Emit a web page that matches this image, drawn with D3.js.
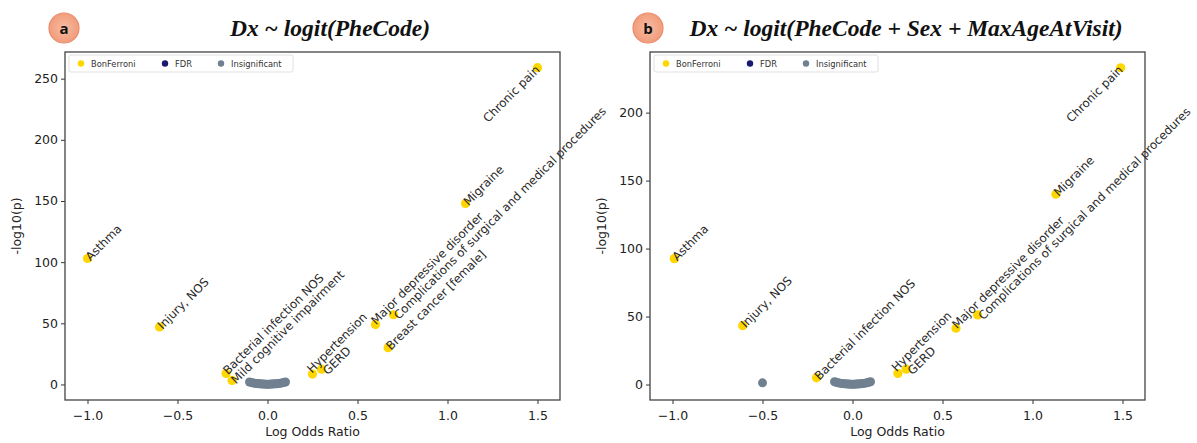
<!DOCTYPE html>
<html>
<head>
<meta charset="utf-8">
<script src="https://cdn.jsdelivr.net/npm/d3@7"></script>
<style>
  html, body { margin: 0; padding: 0; background: #fff; }
  svg { display: block; }
</style>
</head>
<body>
<svg id="chart" width="1197" height="443"></svg>
<script>
// ---------------- DATA ----------------
const panelLetters = ["a", "b"];
const panelTitles = ["Dx ~ logit(PheCode)", "Dx ~ logit(PheCode + Sex + MaxAgeAtVisit)"];
const legendLabels = ["BonFerroni", "FDR", "Insignificant"];
const xTicks = [-1.0, -0.5, 0.0, 0.5, 1.0, 1.5];
const yTicksA = [0, 50, 100, 150, 200, 250];
const yTicksB = [0, 50, 100, 150, 200];

// Panel a: Bonferroni-significant phecodes
const aLabels = ["Asthma", "Injury, NOS", "Bacterial infection NOS", "Mild cognitive impairment",
  "Hypertension", "GERD", "Major depressive disorder",
  "Complications of surgical and medical procedures", "Breast cancer [female]", "Migraine", "Chronic pain"];
const aLogOR = [-1.0, -0.6, -0.23, -0.197, 0.25, 0.30, 0.60, 0.70, 0.67, 1.10, 1.50];
const aNegLogP = [103, 47, 9, 3.3, 8.5, 12.5, 49, 57, 30, 148, 259];
// Panel a: insignificant cluster
const aInsigLogOR = [-0.10, -0.09, -0.08, -0.07, -0.06, -0.05, -0.04, -0.03, -0.02, -0.01, 0.0,
  0.01, 0.02, 0.03, 0.04, 0.05, 0.06, 0.07, 0.08, 0.09, 0.10];
const aInsigNegLogP = [2.0, 1.6, 1.3, 1.0, 0.8, 0.6, 0.5, 0.4, 0.3, 0.2, 0.2,
  0.2, 0.3, 0.4, 0.5, 0.6, 0.8, 1.0, 1.3, 1.6, 2.0];

// Panel b: Bonferroni-significant phecodes
const bLabels = ["Asthma", "Injury, NOS", "Bacterial infection NOS", "Hypertension", "GERD",
  "Major depressive disorder", "Complications of surgical and medical procedures", "Migraine", "Chronic pain"];
const bLogOR = [-0.99, -0.61, -0.20, 0.252, 0.298, 0.575, 0.695, 1.13, 1.49];
const bNegLogP = [92.6, 43.3, 4.9, 8.1, 11.3, 41.4, 51.2, 140, 233];
// Panel b: insignificant points
const bInsigLogOR = [-0.50, -0.10, -0.09, -0.08, -0.07, -0.06, -0.05, -0.04, -0.03, -0.02, -0.01, 0.0,
  0.01, 0.02, 0.03, 0.04, 0.05, 0.06, 0.07, 0.08, 0.09, 0.10];
const bInsigNegLogP = [1.2, 2.0, 1.6, 1.3, 1.0, 0.8, 0.6, 0.5, 0.4, 0.3, 0.2, 0.2,
  0.2, 0.3, 0.4, 0.5, 0.6, 0.8, 1.0, 1.3, 1.6, 2.0];

// ---------------- STYLE / LAYOUT ----------------
const COLORS = { bon: "#FFD700", fdr: "#191970", insig: "#708090" };
const FONT = "'DejaVu Sans', sans-serif";
const LABEL_SIZE = 11.8;
const svg = d3.select("#chart");

const panels = [
  { letter: panelLetters[0], title: panelTitles[0], labels: aLabels, x: aLogOR, y: aNegLogP,
    ix: aInsigLogOR, iy: aInsigNegLogP, yTicks: yTicksA,
    box: { l: 65, r: 560, t: 52, b: 400 }, yDom: [-12.7, 271.8],
    circle: { cx: 64, cy: 28 }, titleX: 330 },
  { letter: panelLetters[1], title: panelTitles[1], labels: bLabels, x: bLogOR, y: bNegLogP,
    ix: bInsigLogOR, iy: bInsigNegLogP, yTicks: yTicksB,
    box: { l: 650, r: 1145, t: 52, b: 400 }, yDom: [-11.4, 244.6],
    circle: { cx: 648, cy: 28 }, titleX: 906 }
];

const defs = svg.append("defs");
const grad = defs.append("radialGradient").attr("id", "badge");
grad.append("stop").attr("offset", "0%").attr("stop-color", "#F8BCA2");
grad.append("stop").attr("offset", "100%").attr("stop-color", "#F19C7C");

panels.forEach(p => {
  const g = svg.append("g");
  const x = d3.scaleLinear().domain([-1.125, 1.625]).range([p.box.l, p.box.r]);
  const y = d3.scaleLinear().domain(p.yDom).range([p.box.b, p.box.t]);

  // panel letter badge
  g.append("circle").attr("cx", p.circle.cx).attr("cy", p.circle.cy).attr("r", 15)
    .attr("fill", "url(#badge)").attr("stroke", "#EA8D69").attr("stroke-width", 1.2);
  g.append("text").attr("x", p.circle.cx).attr("y", p.circle.cy + 5.5)
    .attr("text-anchor", "middle").attr("font-family", "'Open Sans', 'DejaVu Sans', sans-serif")
    .attr("font-weight", "bold").attr("font-size", 15).attr("fill", "#111").text(p.letter);

  // title
  g.append("text").attr("x", p.titleX).attr("y", 36).attr("text-anchor", "middle")
    .attr("font-family", "'Liberation Serif', 'DejaVu Serif', serif")
    .attr("font-style", "italic").attr("font-weight", "bold").attr("font-size", 23.5)
    .attr("fill", "#111").text(p.title);

  // axes
  const xAxis = g.append("g").attr("transform", `translate(0,${p.box.b})`)
    .call(d3.axisBottom(x).tickValues(xTicks).tickFormat(d => d3.format(".1f")(d).replace("-", "\u2212")).tickSizeOuter(0).tickSize(4));
  const yAxis = g.append("g").attr("transform", `translate(${p.box.l},0)`)
    .call(d3.axisLeft(y).tickValues(p.yTicks).tickFormat(d3.format("d")).tickSizeOuter(0).tickSize(4));
  [xAxis, yAxis].forEach(a => {
    a.select(".domain").remove();
    a.selectAll("line").attr("stroke", "#333").attr("stroke-width", 1);
    a.selectAll("text").attr("font-family", FONT).attr("font-size", 12.5).attr("fill", "#222");
  });
  xAxis.selectAll("text").attr("dy", "1.0em");

  // frame
  g.append("rect").attr("x", p.box.l).attr("y", p.box.t)
    .attr("width", p.box.r - p.box.l).attr("height", p.box.b - p.box.t)
    .attr("fill", "none").attr("stroke", "#444").attr("stroke-width", 1.3);

  // axis labels
  g.append("text").attr("x", (p.box.l + p.box.r) / 2).attr("y", 436).attr("text-anchor", "middle")
    .attr("font-family", FONT).attr("font-size", 12.5).attr("fill", "#222").text("Log Odds Ratio");
  g.append("text").attr("transform", `translate(${p.box.l - 44},${(p.box.t + p.box.b) / 2}) rotate(-90)`)
    .attr("text-anchor", "middle").attr("font-family", FONT).attr("font-size", 12.5).attr("fill", "#222")
    .text("-log10(p)");

  // insignificant points
  g.selectAll("circle.insig").data(p.ix.map((v, i) => [v, p.iy[i]])).join("circle")
    .attr("class", "insig").attr("cx", d => x(d[0])).attr("cy", d => y(d[1])).attr("r", 4.5)
    .attr("fill", COLORS.insig);

  // significant points
  const sig = p.x.map((v, i) => ({ x: v, y: p.y[i], label: p.labels[i] }));
  const maxX = d3.max(sig, d => d.x);
  g.selectAll("circle.sig").data(sig).join("circle").attr("class", "sig")
    .attr("cx", d => x(d.x)).attr("cy", d => y(d.y)).attr("r", 4.6).attr("fill", COLORS.bon);

  // labels rotated 45 degrees, with simple perpendicular de-overlap
  const labs = g.selectAll("text.lab").data(sig).join("text").attr("class", "lab")
    .attr("text-anchor", d => d.x === maxX ? "end" : "start")
    .attr("dy", "0.35em")
    .attr("font-family", FONT).attr("font-size", LABEL_SIZE).attr("fill", "#2a2a2a").text(d => d.label);
  const S = Math.SQRT1_2;
  labs.each(function (d) {
    const sx = x(d.x), sy = y(d.y);
    const len = this.getComputedTextLength();
    d.u = (sx + sy) * S;          // perpendicular coordinate (down-right positive)
    const v = (sx - sy) * S;      // along-text coordinate
    d.v0 = d.x === maxX ? v - len : v;
    d.v1 = d.x === maxX ? v : v + len;
    d.du = 0;
  });
  const minSep = LABEL_SIZE * 1.05;
  for (let it = 0; it < 60; it++) {
    for (let i = 0; i < sig.length; i++) {
      for (let j = i + 1; j < sig.length; j++) {
        const a = sig[i], b = sig[j];
        if (a.v1 < b.v0 || b.v1 < a.v0) continue;
        const ua = a.u + a.du, ub = b.u + b.du;
        const diff = ub - ua;
        if (Math.abs(diff) < minSep) {
          const push = (minSep - Math.abs(diff)) / 2 * (diff >= 0 ? 1 : -1);
          a.du -= push; b.du += push;
        }
      }
    }
  }
  labs.attr("transform", d => `translate(${x(d.x) + d.du * S},${y(d.y) + d.du * S}) rotate(-45)`);

  // legend
  const lg = g.append("g").attr("transform", `translate(${p.box.l + 4},${p.box.t + 3})`);
  lg.append("rect").attr("width", 224).attr("height", 17).attr("rx", 2)
    .attr("fill", "#fff").attr("stroke", "#d8d8d8").attr("stroke-width", 0.8);
  const legendX = [12, 96, 152];
  const legendC = [COLORS.bon, COLORS.fdr, COLORS.insig];
  legendLabels.forEach((lab, i) => {
    lg.append("circle").attr("cx", legendX[i]).attr("cy", 8.5).attr("r", 3.2).attr("fill", legendC[i]);
    lg.append("text").attr("x", legendX[i] + 10).attr("y", 11.5).attr("font-family", FONT)
      .attr("font-size", 8.3).attr("fill", "#333").text(lab);
  });
});
</script>
</body>
</html>
